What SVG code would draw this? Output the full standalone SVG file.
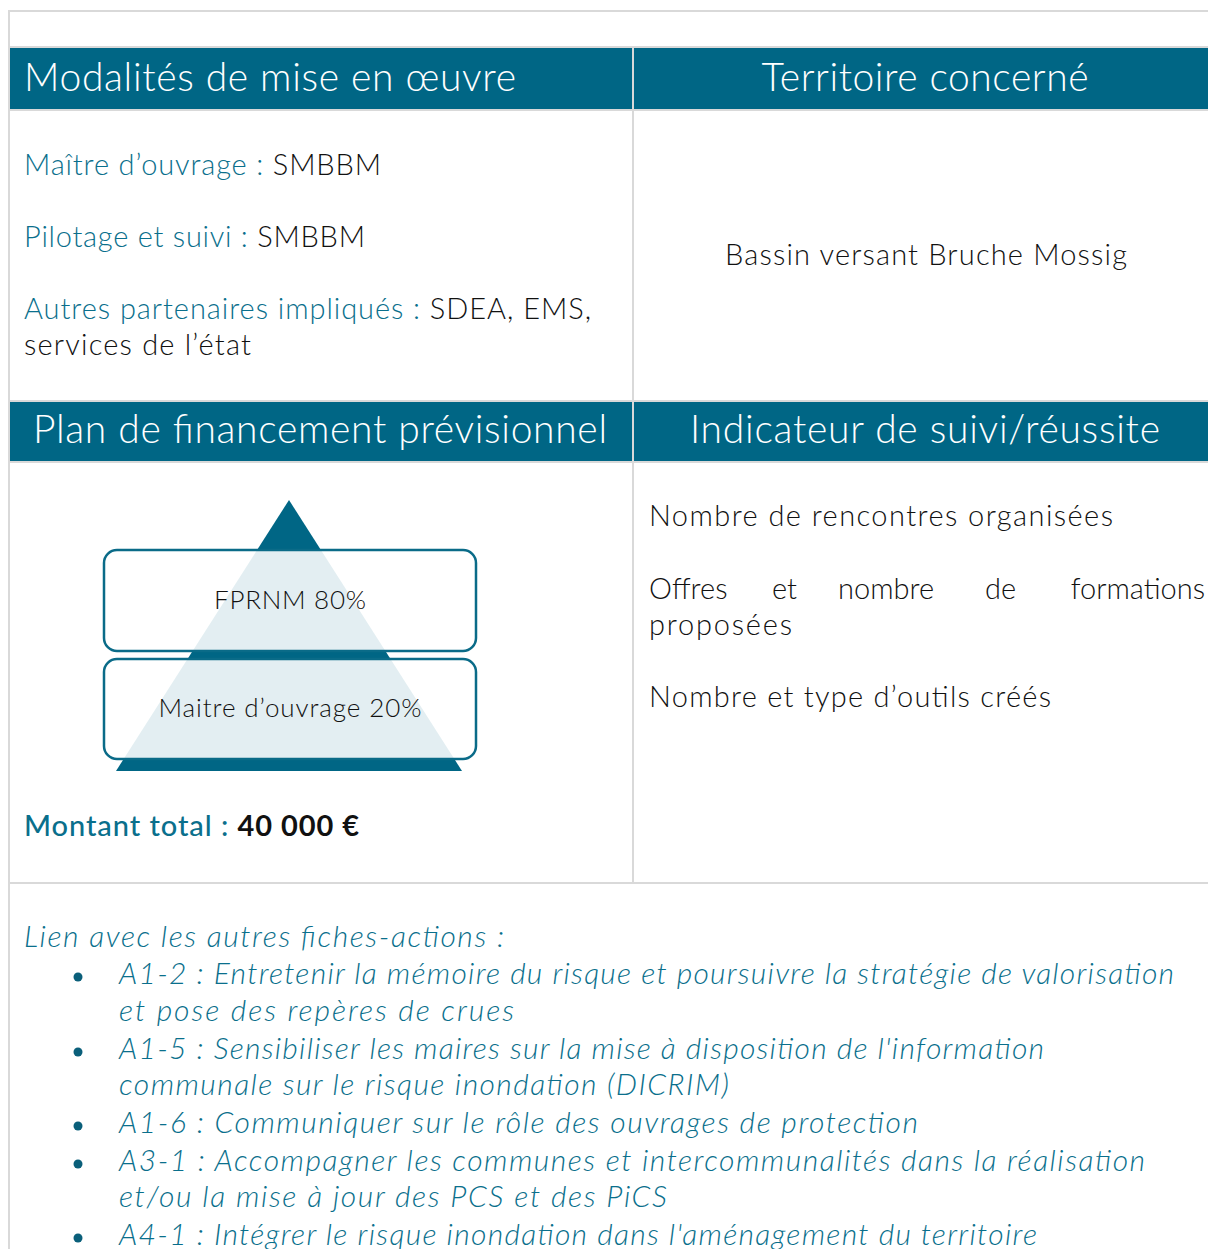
<svg xmlns="http://www.w3.org/2000/svg" width="1208" height="1249" viewBox="0 0 1208 1249">
<style>
.grid{stroke:#d9d9d9;stroke-width:2;fill:none}
.hdr{fill:#006685}
.ht{font-family:Lato,"Open Sans",sans-serif;font-weight:300;font-size:39px;fill:#ffffff}
.t{font-family:Lato,"Open Sans",sans-serif;font-weight:300;font-size:29px;fill:#111111}
.teal{fill:#0a6f8c}
.it{font-family:Lato,"Open Sans",sans-serif;font-weight:300;font-style:italic;font-size:30px;fill:#0a6f8c}
.box{fill:#ffffff;fill-opacity:0.89;stroke:#0a6b88;stroke-width:2.5}
.pt{font-family:Lato,"Open Sans",sans-serif;font-weight:300;font-size:26px;fill:#111111}
</style>
<rect width="1208" height="1249" fill="#ffffff"/>
<g id="grid-lines">
<line class="grid" x1="9" y1="11" x2="1208" y2="11"/>
<line class="grid" x1="9" y1="10" x2="9" y2="1249"/>
<line class="grid" x1="633" y1="47" x2="633" y2="883"/>
<line class="grid" x1="9" y1="47" x2="1208" y2="47"/>
<line class="grid" x1="9" y1="110" x2="1208" y2="110"/>
<line class="grid" x1="9" y1="401" x2="1208" y2="401"/>
<line class="grid" x1="9" y1="462" x2="1208" y2="462"/>
<line class="grid" x1="9" y1="883" x2="1208" y2="883"/>
</g>
<g id="hdr-modalites">
<rect class="hdr" x="10" y="48" width="622" height="61"/>
<text class="ht" x="24" y="91" textLength="492">Modalités de mise en œuvre</text>
</g>
<g id="hdr-territoire">
<rect class="hdr" x="634" y="48" width="574" height="61"/>
<text class="ht" x="925" y="91" text-anchor="middle" textLength="327">Territoire concerné</text>
</g>
<g id="cell-modalites">
<text class="t" x="24" y="175" textLength="357"><tspan class="teal">Maître d’ouvrage : </tspan>SMBBM</text>
<text class="t" x="24" y="247" textLength="341"><tspan class="teal">Pilotage et suivi : </tspan>SMBBM</text>
<text class="t" x="24" y="319" textLength="567"><tspan class="teal">Autres partenaires impliqués : </tspan>SDEA, EMS,</text>
<text class="t" x="24" y="355" textLength="227">services de l’état</text>
</g>
<g id="cell-territoire">
<text class="t" x="926" y="265" text-anchor="middle" textLength="402">Bassin versant Bruche Mossig</text>
</g>
<g id="hdr-financement">
<rect class="hdr" x="10" y="402" width="622" height="59"/>
<text class="ht" x="320" y="443" text-anchor="middle" textLength="574">Plan de financement prévisionnel</text>
</g>
<g id="hdr-indicateur">
<rect class="hdr" x="634" y="402" width="574" height="59"/>
<text class="ht" x="925" y="443" text-anchor="middle" textLength="470">Indicateur de suivi/réussite</text>
</g>
<g id="pyramid">
<polygon points="289,500 116,771 462,771" fill="#006685"/>
<g id="tier-fprnm">
<rect class="box" x="104" y="550" width="372" height="101" rx="13"/>
<text class="pt" x="290" y="609" text-anchor="middle" textLength="152">FPRNM 80%</text>
</g>
<g id="tier-maitre">
<rect class="box" x="104" y="659" width="372" height="100" rx="13"/>
<text class="pt" x="290" y="717" text-anchor="middle" textLength="263">Maitre d’ouvrage 20%</text>
</g>
</g>
<g id="montant">
<text x="24" y="836" font-family="Lato,'Open Sans',sans-serif" font-size="29" textLength="335"><tspan fill="#0a6f8c" font-weight="500">Montant total : </tspan><tspan fill="#111111" font-weight="700">40 000 €</tspan></text>
</g>
<g id="cell-indicateur">
<text class="t" x="649" y="526" textLength="464">Nombre de rencontres organisées</text>
<text class="t" x="649" y="599">Offres</text>
<text class="t" x="772" y="599">et</text>
<text class="t" x="838" y="599">nombre</text>
<text class="t" x="985" y="599">de</text>
<text class="t" x="1205" y="599" text-anchor="end">formations</text>
<text class="t" x="649" y="635" textLength="143">proposées</text>
<text class="t" x="649" y="707" textLength="402">Nombre et type d’outils créés</text>
</g>
<g id="cell-liens">
<text class="it" x="24" y="947" textLength="480">Lien avec les autres fiches-actions :</text>
<g fill="#0a5f7a">
<circle cx="78" cy="977" r="4.5"/>
<circle cx="78" cy="1052" r="4.5"/>
<circle cx="78" cy="1126" r="4.5"/>
<circle cx="78" cy="1164" r="4.5"/>
<circle cx="78" cy="1238" r="4.5"/>
</g>
<text class="it" x="119" y="984" textLength="1055">A1-2 : Entretenir la mémoire du risque et poursuivre la stratégie de valorisation</text>
<text class="it" x="119" y="1021" textLength="395">et pose des repères de crues</text>
<text class="it" x="119" y="1059" textLength="925">A1-5 : Sensibiliser les maires sur la mise à disposition de l'information</text>
<text class="it" x="119" y="1095" textLength="610">communale sur le risque inondation (DICRIM)</text>
<text class="it" x="119" y="1133" textLength="799">A1-6 : Communiquer sur le rôle des ouvrages de protection</text>
<text class="it" x="119" y="1171" textLength="1026">A3-1 : Accompagner les communes et intercommunalités dans la réalisation</text>
<text class="it" x="119" y="1207" textLength="548">et/ou la mise à jour des PCS et des PiCS</text>
<text class="it" x="119" y="1245" textLength="918">A4-1 : Intégrer le risque inondation dans l'aménagement du territoire</text>
</g>
</svg>
